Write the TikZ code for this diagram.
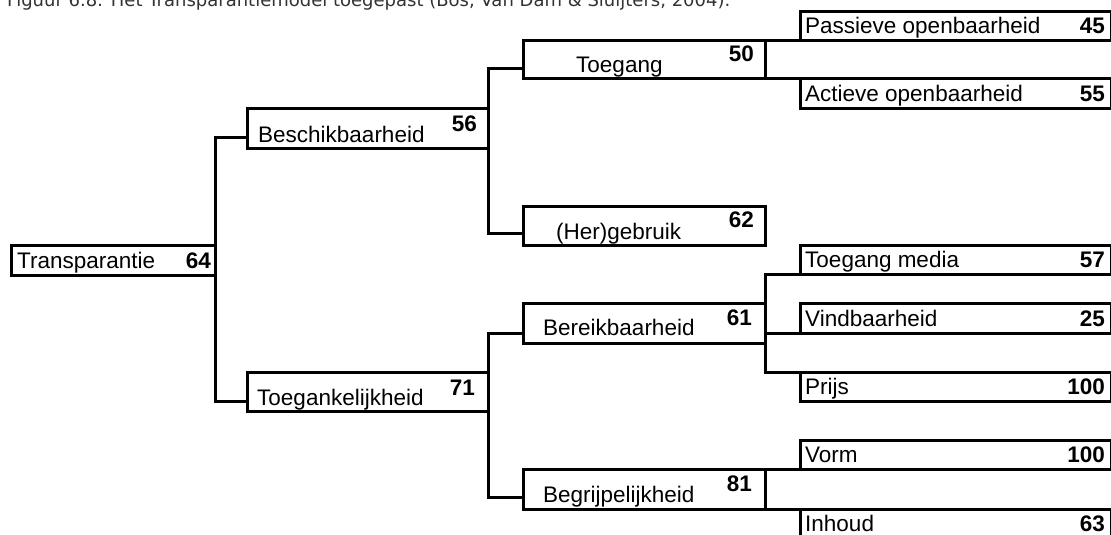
\documentclass[tikz,border=0pt]{standalone}
\usepackage{fontspec}
\setmainfont{Liberation Sans}
\newfontfamily\capfont{DejaVu Sans}
\begin{document}
\begin{tikzpicture}[x=1pt,y=-1pt,
  box/.style={draw, line width=3pt, rectangle, inner sep=0pt, outer sep=0pt, anchor=north west},
  midbox/.style={box, minimum width=242pt},
  leafbox/.style={box, minimum width=311pt, minimum height=29pt},
  conn/.style={line width=3pt},
  lab/.style={anchor=base west, inner sep=0pt, font=\fontsize{22.5}{26}\selectfont},
  num/.style={anchor=base east, inner sep=0pt, font=\fontsize{22.5}{26}\selectfont\bfseries}]
\useasboundingbox (0,0) rectangle (1111,535);
\fill[white] (0,0) rectangle (1111,535);
% caption (clipped at top)
\node[anchor=base west, inner sep=0pt, text=black!80, font=\capfont\fontsize{18}{22}\selectfont] (cap) at (7,7)
  {Figuur 6.8: Het Transparantiemodel toegepast (Bos, Van Dam \& Sluijters, 2004).};
% mid boxes
\node[box, minimum width=204pt, minimum height=30pt] (transp) at (11,245) {};
\node[box, minimum width=241pt, minimum height=40pt] (besch) at (247,108) {};
\node[box, minimum width=241pt, minimum height=39pt] (toegank) at (247,372) {};
\node[midbox, minimum height=38pt] (toegang) at (523,41) {};
\node[midbox, minimum height=39pt] (herg) at (523,206) {};
\node[midbox, minimum height=40pt] (bereik) at (523,303) {};
\node[midbox, minimum height=40pt] (begrijp) at (523,469) {};
% leaf boxes
\node[leafbox] (passieve) at (800,12) {};
\node[leafbox] (actieve) at (800,79) {};
\node[leafbox] (tmedia) at (800,245) {};
\node[leafbox, minimum height=30pt] (vindb) at (800,303) {};
\node[leafbox] (prijs) at (800,372) {};
\node[leafbox] (vorm) at (800,440) {};
\node[leafbox, minimum height=40pt] (inhoud) at (800,509) {};
% connectors
\draw[conn] ([yshift=-9pt]besch.west) -| (transp.east) |- ([yshift=-9.5pt]toegank.west);
\draw[conn] ([yshift=-9pt]toegang.west) -| (besch.east) |- ([yshift=-7.5pt]herg.west);
\draw[conn] ([yshift=-10pt]bereik.west) -| (toegank.east) |- ([yshift=-8pt]begrijp.west);
\draw[conn] (toegang.north east) -- (passieve.south west);
\draw[conn] (toegang.south east) -- (actieve.north west);
\draw[conn] (tmedia.south west) -| (bereik.east) |- (prijs.north west);
\draw[conn] (vindb.south west) -- (vindb.south west -| bereik.east);
\draw[conn] (begrijp.north east) -- (vorm.south west);
\draw[conn] (begrijp.south east) -- (inhoud.north west);
% labels
\node[lab] (t1) at (17,268) {Transparantie};
\node[num] (n1) at (211,268) {64};
\node[lab] (t2) at (258,142) {Beschikbaarheid};
\node[num] (n2) at (477,131) {56};
\node[lab] (t3) at (257,405) {Toegankelijkheid};
\node[num] (n3) at (475,395) {71};
\node[lab] (t4) at (576,73) {Toegang};
\node[num] (n4) at (754,62) {50};
\node[lab] (t5) at (556,239) {(Her)gebruik};
\node[num] (n5) at (754,227) {62};
\node[lab] (t6) at (543,335) {Bereikbaarheid};
\node[num] (n6) at (752,325) {61};
\node[lab] (t7) at (543,502) {Begrijpelijkheid};
\node[num] (n7) at (752,491) {81};
\node[lab] (l1) at (805,34) {Passieve openbaarheid};
\node[num] (m1) at (1105,34) {45};
\node[lab] (l2) at (805,101) {Actieve openbaarheid};
\node[num] (m2) at (1105,101) {55};
\node[lab] (l3) at (805,267) {Toegang media};
\node[num] (m3) at (1105,267) {57};
\node[lab] (l4) at (805,326) {Vindbaarheid};
\node[num] (m4) at (1105,326) {25};
\node[lab] (l5) at (805,394) {Prijs};
\node[num] (m5) at (1105,394) {100};
\node[lab] (l6) at (805,462) {Vorm};
\node[num] (m6) at (1105,462) {100};
\node[lab] (l7) at (805,531) {Inhoud};
\node[num] (m7) at (1105,531) {63};
\end{tikzpicture}
\end{document}
